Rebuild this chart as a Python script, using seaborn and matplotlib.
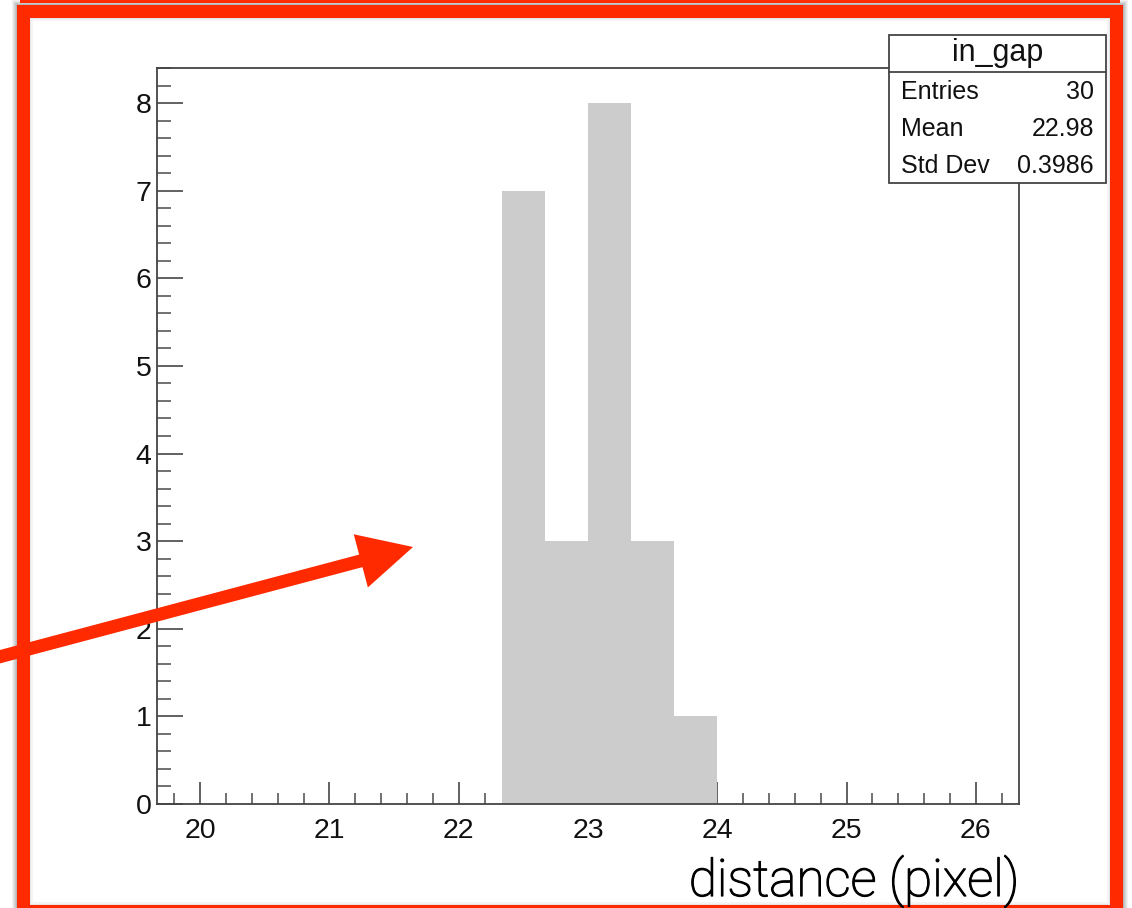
import numpy as np
import pandas as pd
import matplotlib
matplotlib.use("Agg")
import matplotlib.pyplot as plt
import matplotlib.patheffects as pe
from matplotlib.patches import Rectangle, FancyArrow
from matplotlib.ticker import MultipleLocator
import seaborn as sns

# ---- data ----
bin_edges = [22.0 + 1/3, 22.0 + 2/3, 23.0, 23.0 + 1/3, 23.0 + 2/3, 24.0]
counts = [7, 3, 8, 3, 1]
hist_name = "in_gap"
stat_labels = ["Entries", "Mean", "Std Dev"]
stat_values = ["30", "22.98", "0.3986"]
x_label = "distance (pixel)"

sns.set_style("ticks")
plt.rcParams['font.family'] = ['Liberation Sans', 'DejaVu Sans']

W, H, DPI = 1132, 908, 100
fig = plt.figure(figsize=(W / DPI, H / DPI), dpi=DPI)
fig.patch.set_facecolor("white")
T = fig.dpi_scale_trans


def P(x, y):
    """pixel (top-left origin) -> inches (bottom-left origin)"""
    return (x / DPI, (H - y) / DPI)


def prect(x0, y0, x1, y1, **kw):
    r = Rectangle(P(x0, y1), (x1 - x0) / DPI, (y1 - y0) / DPI, transform=T, **kw)
    fig.add_artist(r)
    return r


RED = "#FF2A00"
# shadow around the frame
for i, a in enumerate([0.05, 0.05, 0.06, 0.07, 0.08]):
    d = 5 - i
    prect(17 - d, 5 - d, 1123 + d, 920, facecolor="black", alpha=a, lw=0, zorder=-5)
# red frame
prect(17, 5, 1123, 920, facecolor=RED, lw=0, zorder=-4)
prect(30, 18, 1110, 905, facecolor="#e6e6e6", lw=0, zorder=-3)
prect(31, 19, 1109, 904, facecolor="#f4f4f4", lw=0, zorder=-3)
prect(33, 21, 1107, 902, facecolor="white", lw=0, zorder=-3)
# thin red line at very top (edge of another frame)
prect(20, 0, 1120, 2.5, facecolor=RED, lw=0, zorder=-4)

# ---- axes ----
ax = fig.add_axes([157 / W, 1 - 804 / H, (1019 - 157) / W, (804 - 68) / H])
ax.set_facecolor("white")
centers = [(bin_edges[i] + bin_edges[i + 1]) / 2 for i in range(len(counts))]
df = pd.DataFrame({"x": centers, "w": counts})
sns.histplot(data=df, x="x", weights="w", bins=bin_edges, color="#cccccc",
             alpha=1.0, edgecolor="none", linewidth=0, ax=ax)

ax.set_xlim(19.0 + 2/3, 26.0 + 1/3)
ax.set_ylim(0, 8.4)
ax.set_xlabel("")
ax.set_ylabel("")
ax.xaxis.set_major_locator(MultipleLocator(1))
ax.xaxis.set_minor_locator(MultipleLocator(0.2))
ax.yaxis.set_major_locator(MultipleLocator(1))
ax.yaxis.set_minor_locator(MultipleLocator(0.2))
for s in ax.spines.values():
    s.set_visible(True)
    s.set_color("#444444")
    s.set_linewidth(1.3)

ax.tick_params(axis="y", which="major", direction="in", length=18.5, width=1.3,
               color="#555555", labelsize=20.5, pad=4, left=True, right=False)
ax.tick_params(axis="y", which="minor", direction="in", length=10, width=1.3,
               color="#666666", left=True, right=False)
ax.tick_params(axis="x", which="major", direction="in", length=16, width=1.3,
               color="#555555", labelsize=20.5, pad=10, bottom=True, top=False)
ax.tick_params(axis="x", which="minor", direction="in", length=8, width=1.3,
               color="#666666", bottom=True, top=False)
for lab in ax.get_xticklabels() + ax.get_yticklabels():
    lab.set_color("#111111")

# x-axis label (large, light)
fig.text(1019 / W, 1 - 896 / H, x_label, ha="right", va="baseline",
         fontsize=37, color="#000000", family=["Roboto", "Liberation Sans"],
         fontweight="light",
         path_effects=[pe.withStroke(linewidth=0.9, foreground="#000000")])

# ---- stats box ----
bx0, by0, bx1, by1 = 889, 35, 1106, 183
prect(bx0, by0, bx1, by1, facecolor="white", edgecolor="#444444", lw=1.3, zorder=4)
fig.add_artist(plt.Line2D([bx0 / DPI, bx1 / DPI], [P(0, 72)[1]] * 2, transform=T,
                          color="#444444", lw=1.3, zorder=5))
fig.text((bx0 + bx1) / 2 / W, 1 - 53 / H, hist_name, ha="center", va="center",
         fontsize=22, color="#111111", zorder=6)
for lab, val, yy in zip(stat_labels, stat_values, [92, 129, 166]):
    fig.text(901 / W, 1 - yy / H, lab, ha="left", va="center", fontsize=18,
             color="#111111", zorder=6)
    fig.text(1094 / W, 1 - yy / H, val, ha="right", va="center", fontsize=18,
             color="#111111", zorder=6)

# ---- red annotation arrow ----
x0, y0 = P(-20, 662)
x1, y1 = P(413, 547)
arr = FancyArrow(x0, y0, x1 - x0, y1 - y0, width=0.13, head_width=0.55,
                 head_length=0.54, length_includes_head=True, transform=T,
                 color=RED, lw=0, zorder=10)
fig.add_artist(arr)

fig.savefig("out.png", dpi=DPI)
